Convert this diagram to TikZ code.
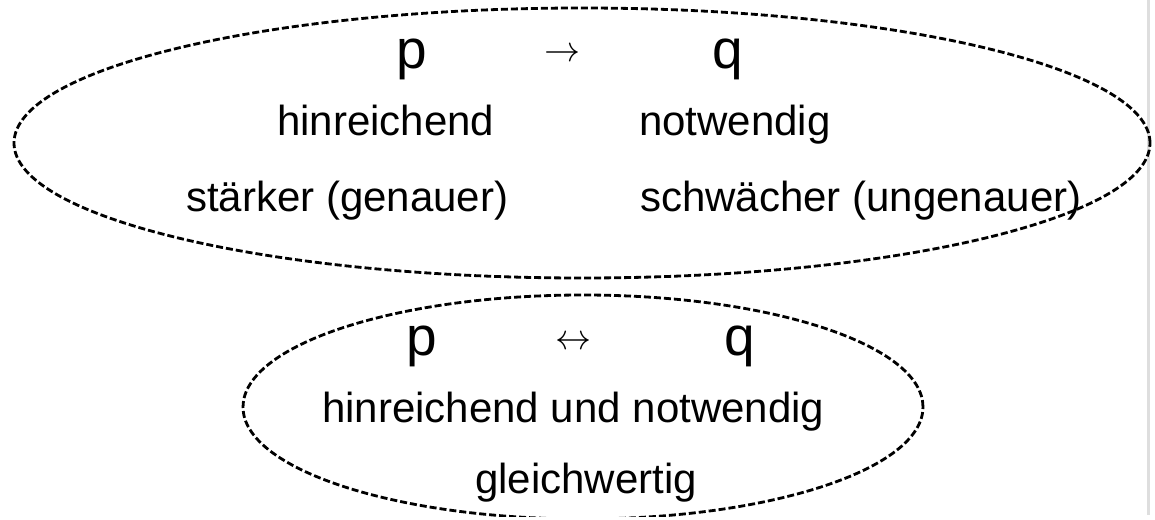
\documentclass[tikz,border=0pt]{standalone}
\usepackage{fontspec}
\setmainfont{Liberation Sans}
\begin{document}
\begin{tikzpicture}[
    x=1pt, y=-1pt,
    every node/.style={inner sep=0pt, font=\fontsize{42}{50}\selectfont},
    letter/.style={font=\fontsize{55}{66}\selectfont},
    sign/.style={font=\fontsize{10}{12}\selectfont, scale=3.6},
    oval/.style={draw, line width=2.8pt, dash pattern=on 7pt off 3pt},
]
  \useasboundingbox (0,0) rectangle (1155,519);
  \draw [line width=3pt, black!13] (1148,0) -- (1148,515);
  \draw [oval] (582,143) ellipse [x radius=568pt, y radius=135pt];
  \begin{scope}
    \clip (0,0) rectangle (1155,516);
    \draw [oval] (583,407) ellipse [x radius=340pt, y radius=112pt];
  \end{scope}
  \node [letter, anchor=base]   (p1)   at (412,68)   {p};
  \node [sign, anchor=center]   (imp)  at (562,55)   {$\rightarrow$};
  \node [letter, anchor=base]   (q1)   at (728,68)   {q};
  \node [anchor=base west]      (hin)  at (277,135)  {hinreichend};
  \node [anchor=base west]      (notw) at (639,135)  {notwendig};
  \node [anchor=base west]      (st)   at (186,211)  {stärker (genauer)};
  \node [anchor=base west]      (sw)   at (640,211)  {schwächer (ungenauer)};
  \node [letter, anchor=base]   (p2)   at (422,355)  {p};
  \node [sign, anchor=center]   (eqv)  at (573,343)  {$\leftrightarrow$};
  \node [letter, anchor=base]   (q2)   at (740,355)  {q};
  \node [anchor=base west]      (hun)  at (322,422)  {hinreichend und notwendig};
  \node [anchor=base west]      (gw)   at (475,493)  {gleichwertig};
\end{tikzpicture}
\end{document}
